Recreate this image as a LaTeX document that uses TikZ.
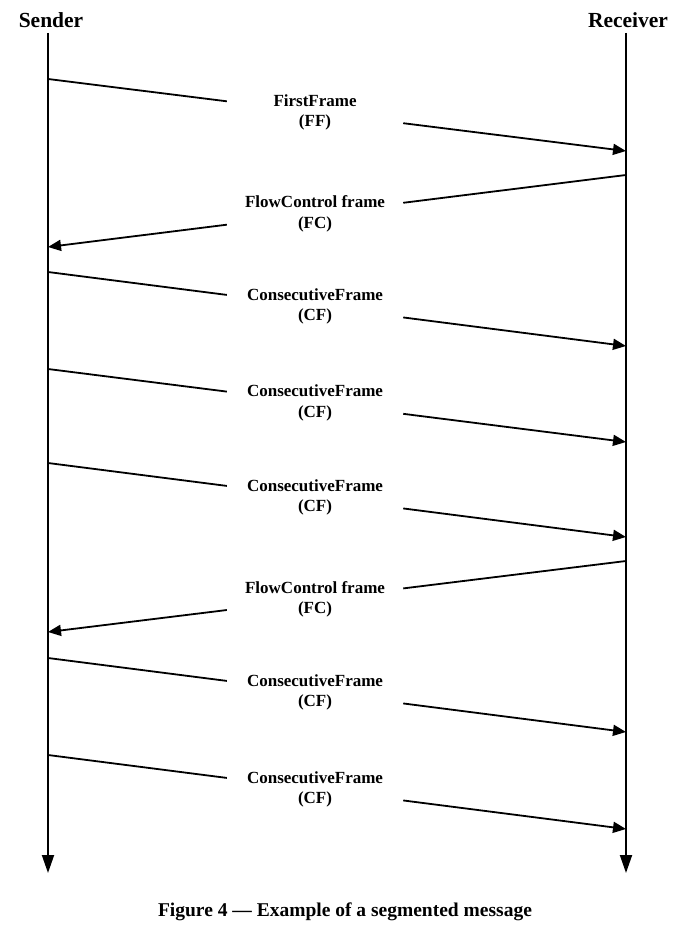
\documentclass[tikz,border=0pt]{standalone}
\usepackage{fontspec}
\setmainfont{Liberation Serif}
\usetikzlibrary{arrows.meta,calc}
\begin{document}
\begin{tikzpicture}[x=1pt,y=-1pt,
  life/.style={line width=1.9pt,-{Triangle[length=18pt,width=12pt]}},
  msg/.style={line width=1.8pt},
  msgarr/.style={line width=1.8pt,-{Triangle[length=13pt,width=11pt]}},
  lbl/.style={align=center,font=\bfseries\fontsize{17}{20.5}\selectfont,minimum width=176pt,minimum height=46pt,inner sep=0pt},
  head/.style={font=\bfseries\fontsize{21.5}{24}\selectfont,inner sep=0pt}]
\useasboundingbox (0,0) rectangle (683,928);
\node[head] (sender) at (51,20) {Sender};
\node[head] (receiver) at (628,20) {Receiver};
\coordinate (st) at (48,33); \coordinate (se) at (48,873);
\coordinate (rt) at (626,33); \coordinate (re) at (626,873);
\draw[life] (st) -- (se);
\draw[life] (rt) -- (re);
% messages: sender->receiver
\foreach \i/\ys/\yr/\txt in {1/79/151/{FirstFrame\\(FF)},3/272/346/{ConsecutiveFrame\\(CF)},4/369/442/{ConsecutiveFrame\\(CF)},5/463/537/{ConsecutiveFrame\\(CF)},7/658/732/{ConsecutiveFrame\\(CF)},8/755/829/{ConsecutiveFrame\\(CF)}}{
  \coordinate (s\i) at (48,\ys);
  \coordinate (r\i) at (626,\yr);
  \node[lbl] (m\i) at ($(s\i)!0.462!(r\i)$) {\txt};
  \draw[msg] (s\i) -- (m\i);
  \draw[msgarr] (m\i) -- (r\i);
}
% messages: receiver->sender
\foreach \i/\ys/\yr/\txt in {2/247/175/{FlowControl frame\\(FC)},6/632/561/{FlowControl frame\\(FC)}}{
  \coordinate (s\i) at (48,\ys);
  \coordinate (r\i) at (626,\yr);
  \node[lbl] (m\i) at ($(s\i)!0.462!(r\i)$) {\txt};
  \draw[msg] (r\i) -- (m\i);
  \draw[msgarr] (m\i) -- (s\i);
}
\node[font=\bfseries\fontsize{19.5}{22}\selectfont,inner sep=0pt] (cap) at (345,912) {Figure 4 — Example of a segmented message};
\end{tikzpicture}
\end{document}
